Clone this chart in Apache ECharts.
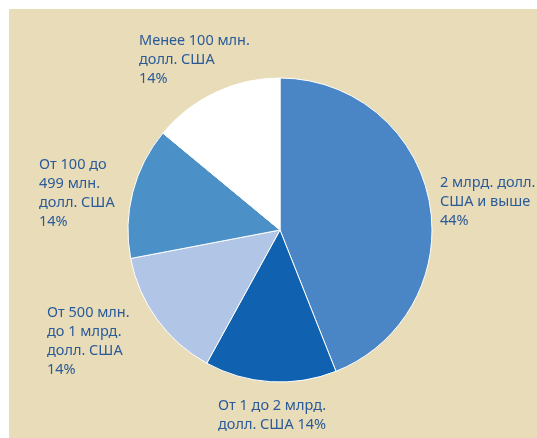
<!DOCTYPE html>
<html>
<head>
<meta charset="utf-8">
<script src="https://cdn.jsdelivr.net/npm/echarts@6/dist/echarts.min.js"></script>
<style>
html,body{margin:0;padding:0;background:#ffffff;width:537px;height:438px;overflow:hidden;}
#chart{position:absolute;left:9px;top:9px;width:528px;height:429px;}
</style>
</head>
<body>
<div id="chart"></div>
<script>
// Data
var categories = [
  '2 млрд. долл.\nСША и выше',
  'От 1 до 2 млрд.\nдолл. США',
  'От 500 млн.\nдо 1 млрд.\nдолл. США',
  'От 100 до\n499 млн.\nдолл. США',
  'Менее 100 млн.\nдолл. США'
];
var values = [44, 14, 14, 14, 14];
var percentSeparator = ['\n', ' ', '\n', '\n', '\n'];

// Styles / layout (kept separate from data)
var colors = ['#4a86c5', '#1062b0', '#b1c5e6', '#4b91c7', '#ffffff'];
var labelPos = [[431, 164], [209, 387], [38, 294], [30, 146], [130, 22]];

var chart = echarts.init(document.getElementById('chart'));
chart.setOption({
  backgroundColor: '#e8dcb9',
  animation: false,
  series: [{
    type: 'pie',
    center: [271, 221],
    radius: 152,
    startAngle: 90,
    clockwise: true,
    avoidLabelOverlap: false,
    itemStyle: { borderColor: '#ffffff', borderWidth: 1 },
    emphasis: { disabled: true },
    labelLine: { show: false },
    label: {
      show: true,
      position: 'outside',
      color: '#2a5a98',
      fontFamily: 'Noto Sans',
      fontSize: 14.5,
      lineHeight: 19,
      align: 'left',
      verticalAlign: 'top',
      formatter: function (p) {
        return p.name + percentSeparator[p.dataIndex] + Math.round(p.percent) + '%';
      }
    },
    labelLayout: function (p) {
      var pos = labelPos[p.dataIndex];
      return { x: pos[0], y: pos[1], align: 'left', verticalAlign: 'top' };
    },
    data: categories.map(function (c, i) {
      return { name: c, value: values[i], itemStyle: { color: colors[i] } };
    })
  }]
});
</script>
</body>
</html>
